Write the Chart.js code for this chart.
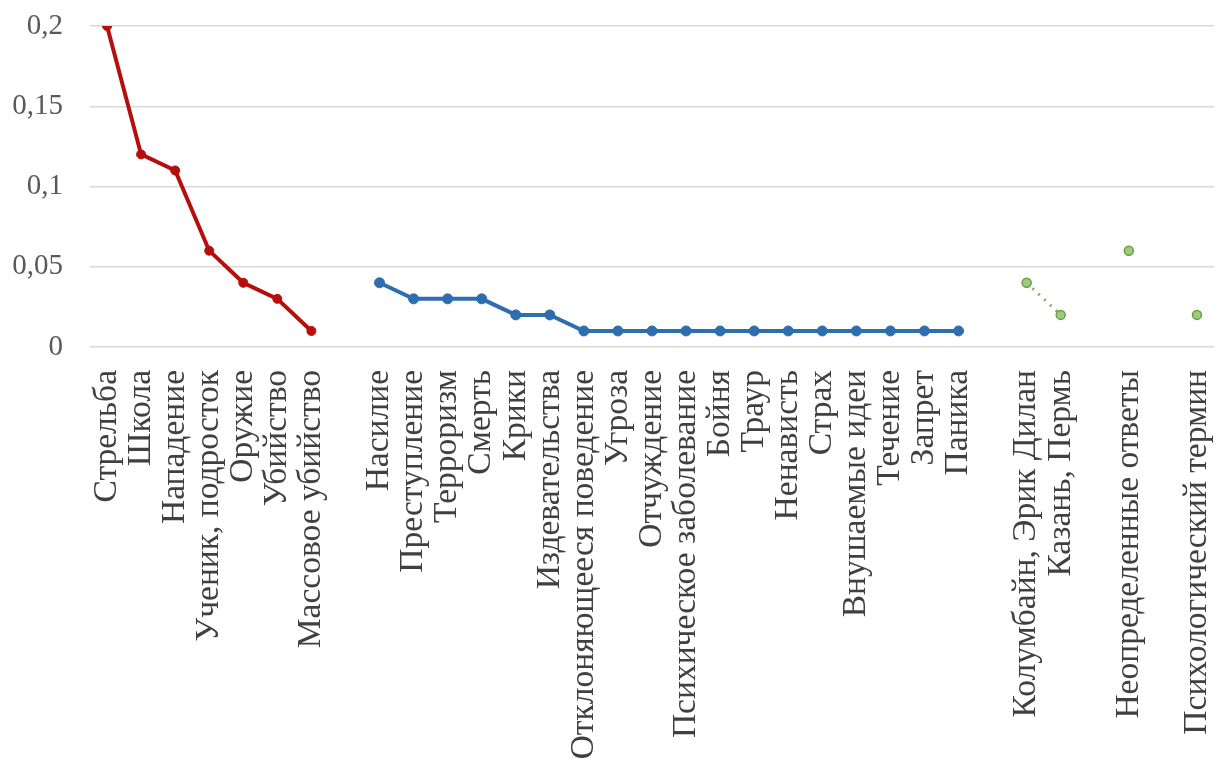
<!DOCTYPE html>
<html>
<head>
<meta charset="utf-8">
<script src="https://cdn.jsdelivr.net/npm/chart.js@4"></script>
<style>
  html, body { margin: 0; padding: 0; background: #fff; }
  #wrap { width: 1220px; height: 778px; }
</style>
</head>
<body>
<div id="wrap"><canvas id="chart" width="1220" height="778"></canvas></div>
<script>
// категории (пустые строки - промежутки между группами)
const labels = [
  "Стрельба", "Школа", "Нападение", "Ученик, подросток", "Оружие", "Убийство", "Массовое убийство",
  "",
  "Насилие", "Преступление", "Терроризм", "Смерть", "Крики", "Издевательства",
  "Отклоняющееся поведение", "Угроза", "Отчуждение", "Психическое заболевание", "Бойня", "Траур",
  "Ненависть", "Страх", "Внушаемые идеи", "Течение", "Запрет", "Паника",
  "",
  "Колумбайн, Эрик Дилан", "Казань, Пермь",
  "",
  "Неопределенные ответы",
  "",
  "Психологический термин"
];

const redValues = [0.2, 0.12, 0.11, 0.06, 0.04, 0.03, 0.01];
const blueValues = [0.04, 0.03, 0.03, 0.03, 0.02, 0.02, 0.01, 0.01, 0.01, 0.01, 0.01, 0.01, 0.01, 0.01, 0.01, 0.01, 0.01, 0.01];
const greenPairValues = [0.04, 0.02];
const otherValue = [0.06];
const termValue = [0.02];

const yTicks = [0, 0.05, 0.1, 0.15, 0.2];

const serif = "'Liberation Serif', 'Times New Roman', 'DejaVu Serif', serif";

// раскладываем значения по позициям оси
function place(values, start) {
  const arr = labels.map(() => null);
  values.forEach((v, i) => { arr[start + i] = v; });
  return arr;
}

const redData = place(redValues, 0);
const blueData = place(blueValues, 8);
const greenData = place(greenPairValues, 27);
otherValue.forEach(v => { greenData[30] = v; });
termValue.forEach(v => { greenData[32] = v; });

function noPad(scale) {
  scale.paddingLeft = 0;
  scale.paddingRight = 0;
  scale.paddingTop = 0;
  scale.paddingBottom = 0;
}

new Chart(document.getElementById("chart").getContext("2d"), {
  type: "line",
  data: {
    labels: labels,
    datasets: [
      {
        data: redData,
        borderColor: "#B40F0C",
        backgroundColor: "#B40F0C",
        borderWidth: 4,
        pointRadius: 4.5,
        pointBorderWidth: 1,
        tension: 0
      },
      {
        data: blueData,
        borderColor: "#2E6DAE",
        backgroundColor: "#2E6DAE",
        borderWidth: 4,
        pointRadius: 5,
        pointBorderWidth: 1,
        tension: 0
      },
      {
        data: greenData,
        borderColor: "#7DB15A",
        backgroundColor: "#9FCB7E",
        pointBorderColor: "#6A9E48",
        borderWidth: 3,
        borderDash: [2, 6],
        pointRadius: 4.5,
        pointBorderWidth: 1.5,
        spanGaps: false,
        tension: 0
      }
    ]
  },
  options: {
    responsive: false,
    animation: false,
    layout: { padding: { top: 26, right: -5, left: 0, bottom: 0 } },
    plugins: { legend: { display: false }, tooltip: { enabled: false } },
    scales: {
      x: {
        offset: true,
        grid: { display: false },
        border: { display: false },
        ticks: {
          autoSkip: false,
          minRotation: 90,
          maxRotation: 90,
          padding: 15,
          color: "#404040",
          font: { family: serif, size: 33.5 }
        },
        afterFit: scale => { scale.height = 431; noPad(scale); }
      },
      y: {
        min: 0,
        max: 0.2,
        afterBuildTicks: scale => { scale.ticks = yTicks.map(v => ({ value: v })); },
        grid: { color: "#D9D9D9", lineWidth: 1.5, drawTicks: false },
        border: { display: false },
        ticks: {
          padding: 27,
          color: "#595959",
          font: { family: serif, size: 29 },
          callback: v => String(Math.round(v * 100) / 100).replace(".", ",")
        },
        afterFit: scale => { scale.width = 90; noPad(scale); }
      }
    }
  }
});
</script>
</body>
</html>
